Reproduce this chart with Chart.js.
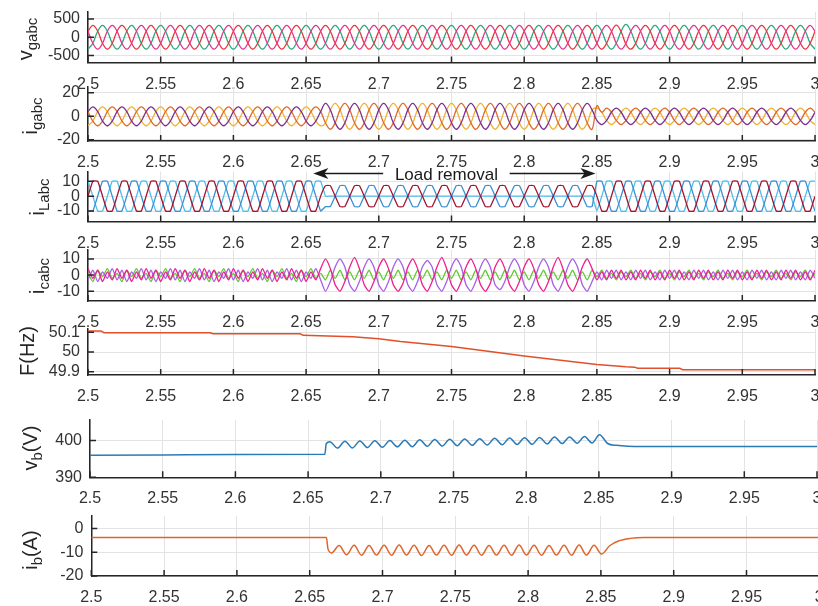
<!DOCTYPE html>
<html><head><meta charset="utf-8">
<script src="https://cdn.jsdelivr.net/npm/chart.js"></script>
<style>
html,body{margin:0;padding:0;width:818px;height:606px;overflow:hidden;background:#fff}
canvas{position:absolute;left:0}
.yl{position:absolute;width:0;height:0}
.yl span{position:absolute;left:0;top:0;transform:translate(-50%,-50%) rotate(-90deg);white-space:nowrap;font-family:"Liberation Sans",Arial,sans-serif;color:#262626;font-size:20px;line-height:20px}
.yl sub{font-size:15px;line-height:0;vertical-align:-5px}
</style></head><body>
<canvas id="c1"></canvas><canvas id="c2"></canvas><canvas id="c3"></canvas><canvas id="c4"></canvas>
<canvas id="c5"></canvas><canvas id="c6"></canvas><canvas id="c7"></canvas>
<div class="yl" style="left:25px;top:39px"><span>v<sub>gabc</sub></span></div>
<div class="yl" style="left:30px;top:116px"><span>i<sub>gabc</sub></span></div>
<div class="yl" style="left:37px;top:197px"><span>i<sub>Labc</sub></span></div>
<div class="yl" style="left:37px;top:276px"><span>i<sub>cabc</sub></span></div>
<div class="yl" style="left:27px;top:351px"><span>F(Hz)</span></div>
<div class="yl" style="left:30px;top:448px"><span>v<sub>b</sub>(V)</span></div>
<div class="yl" style="left:30px;top:550px"><span>i<sub>b</sub>(A)</span></div>
<script>
// ---------- tick labels ----------
const XTICKS = [2.5,2.55,2.6,2.65,2.7,2.75,2.8,2.85,2.9,2.95,3];
const XTICK_LABELS = ['2.5','2.55','2.6','2.65','2.7','2.75','2.8','2.85','2.9','2.95','3'];
const YT_VG = [-500,0,500],   YL_VG = ['-500','0','500'];
const YT_IG = [-20,0,20],     YL_IG = ['-20','0','20'];
const YT_IL = [-10,0,10],     YL_IL = ['-10','0','10'];
const YT_IC = [-10,0,10],     YL_IC = ['-10','0','10'];
const YT_F  = [49.9,50,50.1], YL_F  = ['49.9','50','50.1'];
const YT_VB = [390,400],      YL_VB = ['390','400'];
const YT_IB = [-20,-10,0],    YL_IB = ['-20','-10','0'];

// ---------- sampled waveforms (time in s) ----------
const T_WAVE = [
2.5,2.50333,2.50667,2.51,2.51333,2.51667,2.52,2.52333,2.52667,2.53,2.53333,2.53667,2.54,2.54333,2.54667,2.55,2.55333,2.55667,2.56,2.56333,2.56667,2.57,2.57333,2.57667,2.58,2.58333,2.58667,2.59,2.59333,2.59667,
2.6,2.60333,2.60667,2.61,2.61333,2.61667,2.62,2.62333,2.62667,2.63,2.63333,2.63667,2.64,2.64333,2.64667,2.65,2.65333,2.65667,2.66,2.66333,2.66667,2.67,2.67333,2.67667,2.68,2.68333,2.68667,2.69,2.69333,2.69667,
2.7,2.70333,2.70667,2.71,2.71333,2.71667,2.72,2.72333,2.72667,2.73,2.73333,2.73667,2.74,2.74333,2.74667,2.75,2.75333,2.75667,2.76,2.76333,2.76667,2.77,2.77333,2.77667,2.78,2.78333,2.78667,2.79,2.79333,2.79667,
2.8,2.80333,2.80667,2.81,2.81333,2.81667,2.82,2.82333,2.82667,2.83,2.83333,2.83667,2.84,2.84333,2.84667,2.85,2.85333,2.85667,2.86,2.86333,2.86667,2.87,2.87333,2.87667,2.88,2.88333,2.88667,2.89,2.89333,2.89667,
2.9,2.90333,2.90667,2.91,2.91333,2.91667,2.92,2.92333,2.92667,2.93,2.93333,2.93667,2.94,2.94333,2.94667,2.95,2.95333,2.95667,2.96,2.96333,2.96667,2.97,2.97333,2.97667,2.98,2.98333,2.98667,2.99,2.99333,2.99667,
3];

const VG_A = [
163,325,163,-163,-325,-163,163,325,163,-163,-325,-163,163,325,163,-163,-325,-163,163,325,163,-163,-325,-163,163,325,163,-163,-325,-163,
163,325,163,-163,-325,-163,163,325,163,-163,-325,-163,163,325,163,-163,-325,-163,163,325,163,-163,-325,-163,163,325,163,-163,-325,-163,
163,325,163,-163,-325,-163,163,325,163,-163,-325,-163,163,325,163,-163,-325,-163,163,325,163,-163,-325,-163,163,325,163,-163,-325,-163,
163,325,163,-163,-325,-163,163,325,163,-163,-325,-163,163,325,163,-163,-325,-163,150,330,150,-190,-325,-163,163,325,163,-163,-325,-163,
163,325,163,-163,-325,-163,163,325,163,-163,-325,-163,163,325,163,-163,-325,-163,163,325,163,-163,-325,-163,163,325,163,-163,-325,-163,
163];
const VG_B = [
-325,-163,163,325,163,-163,-325,-163,163,325,163,-163,-325,-163,163,325,163,-163,-325,-163,163,325,163,-163,-325,-163,163,325,163,-163,
-325,-163,163,325,163,-163,-325,-163,163,325,163,-163,-325,-163,163,325,163,-163,-325,-163,163,325,163,-163,-325,-163,163,325,163,-163,
-325,-163,163,325,163,-163,-325,-163,163,325,163,-163,-325,-163,163,325,163,-163,-325,-163,163,325,163,-163,-325,-163,163,325,163,-163,
-325,-163,163,325,163,-163,-325,-163,163,325,163,-163,-325,-163,163,325,163,-163,-325,-163,163,350,163,-163,-325,-163,163,325,163,-163,
-325,-163,163,325,163,-163,-325,-163,163,325,163,-163,-325,-163,163,325,163,-163,-325,-163,163,325,163,-163,-325,-163,163,325,163,-163,
-325];
const VG_C = [
163,-163,-325,-163,163,325,163,-163,-325,-163,163,325,163,-163,-325,-163,163,325,163,-163,-325,-163,163,325,163,-163,-325,-163,163,325,
163,-163,-325,-163,163,325,163,-163,-325,-163,163,325,163,-163,-325,-163,163,325,163,-163,-325,-163,163,325,163,-163,-325,-163,163,325,
163,-163,-325,-163,163,325,163,-163,-325,-163,163,325,163,-163,-325,-163,163,325,163,-163,-325,-163,163,325,163,-163,-325,-163,163,325,
163,-163,-325,-163,163,325,163,-163,-325,-163,163,325,163,-163,-325,-163,163,325,163,-163,-325,-163,163,325,163,-163,-325,-163,163,325,
163,-163,-325,-163,163,325,163,-163,-325,-163,163,325,163,-163,-325,-163,163,325,163,-163,-325,-163,163,325,163,-163,-325,-163,163,325,
163];

const IG_A = [
4,8,4,-4,-8,-4,4,8,4,-4,-8,-4,4,8,4,-4,-8,-4,4,8,4,-4,-8,-4,4,8,4,-4,-8,-4,
4,8,4,-4,-8,-4,4,8,4,-4,-8,-4,4,8,4,-4,-8,-4,4,11,5.5,-5.5,-11,-5.5,5.5,11,5.5,-5.5,-11,-5.5,
5.5,11,5.5,-5.5,-11,-5.5,5.5,11,5.5,-5.5,-11,-5.5,5.5,11,5.5,-5.5,-11,-5.5,5.5,11,5.5,-5.5,-11,-5.5,5.5,11,5.5,-5.5,-11,-5.5,
5.5,11,5.5,-5.5,-11,-5.5,5.5,11,5.5,-5.5,-11,-5.5,5.5,11,5.5,-3.5,-7,-3.5,3.5,7,3.5,-3.5,-7,-3.5,3.5,7,3.5,-3.5,-7,-3.5,
3.5,7,3.5,-3.5,-7,-3.5,3.5,7,3.5,-3.5,-7,-3.5,3.5,7,3.5,-3.5,-7,-3.5,3.5,7,3.5,-3.5,-7,-3.5,3.5,7,3.5,-3.5,-7,-3.5,
3.5];
const IG_B = [
-8,-4,4,8,4,-4,-8,-4,4,8,4,-4,-8,-4,4,8,4,-4,-8,-4,4,8,4,-4,-8,-4,4,8,4,-4,
-8,-4,4,8,4,-4,-8,-4,4,8,4,-4,-8,-4,4,8,4,-4,-8,-5.5,5.5,11,5.5,-5.5,-11,-5.5,5.5,11,5.5,-5.5,
-11,-5.5,5.5,11,5.5,-5.5,-11,-5.5,5.5,11,5.5,-5.5,-11,-5.5,5.5,11,5.5,-5.5,-11,-5.5,5.5,11,5.5,-5.5,-11,-5.5,5.5,11,5.5,-5.5,
-11,-5.5,5.5,11,5.5,-5.5,-11,-5.5,5.5,11,5.5,-5.5,-11,-5.5,5.5,7,3.5,-3.5,-7,-3.5,3.5,7,3.5,-3.5,-7,-3.5,3.5,7,3.5,-3.5,
-7,-3.5,3.5,7,3.5,-3.5,-7,-3.5,3.5,7,3.5,-3.5,-7,-3.5,3.5,7,3.5,-3.5,-7,-3.5,3.5,7,3.5,-3.5,-7,-3.5,3.5,7,3.5,-3.5,
-7];
const IG_C = [
4,-4,-8,-4,4,8,4,-4,-8,-4,4,8,4,-4,-8,-4,4,8,4,-4,-8,-4,4,8,4,-4,-8,-4,4,8,
4,-4,-8,-4,4,8,4,-4,-8,-4,4,8,4,-4,-8,-4,4,8,4,-5.5,-11,-5.5,5.5,11,5.5,-5.5,-11,-5.5,5.5,11,
5.5,-5.5,-11,-5.5,5.5,11,5.5,-5.5,-11,-5.5,5.5,11,5.5,-5.5,-11,-5.5,5.5,11,5.5,-5.5,-11,-5.5,5.5,11,5.5,-5.5,-11,-5.5,5.5,11,
5.5,-5.5,-11,-5.5,5.5,11,5.5,-5.5,-11,-5.5,5.5,11,5.5,-5.5,-11,9,3.5,7,3.5,-3.5,-7,-3.5,3.5,7,3.5,-3.5,-7,-3.5,3.5,7,
3.5,-3.5,-7,-3.5,3.5,7,3.5,-3.5,-7,-3.5,3.5,7,3.5,-3.5,-7,-3.5,3.5,7,3.5,-3.5,-7,-3.5,3.5,7,3.5,-3.5,-7,-3.5,3.5,7,
3.5];

const IL_A = [
0,10,10,0,-10,-10,0,10,10,0,-10,-10,0,10,10,0,-10,-10,0,10,10,0,-10,-10,0,10,10,0,-10,-10,
0,10,10,0,-10,-10,0,10,10,0,-10,-10,0,10,10,0,-10,-10,0,7,7,0,-7,-7,0,7,7,0,-7,-7,
0,7,7,0,-7,-7,0,7,7,0,-7,-7,0,7,7,0,-7,-7,0,7,7,0,-7,-7,0,7,7,0,-7,-7,
0,7,7,0,-7,-7,0,7,7,0,-7,-7,0,7,7,0,-10,-10,0,10,10,0,-10,-10,0,10,10,0,-10,-10,
0,10,10,0,-10,-10,0,10,10,0,-10,-10,0,10,10,0,-10,-10,0,10,10,0,-10,-10,0,10,10,0,-10,-10,
0];
const IL_B = [
-10,-10,0,10,10,0,-10,-10,0,10,10,0,-10,-10,0,10,10,0,-10,-10,0,10,10,0,-10,-10,0,10,10,0,
-10,-10,0,10,10,0,-10,-10,0,10,10,0,-10,-10,0,10,10,0,-10,-7,-7,0,7,7,0,-7,-7,0,7,7,
0,-7,-7,0,7,7,0,-7,-7,0,7,7,0,-7,-7,0,7,7,0,-7,-7,0,7,7,0,-7,-7,0,7,7,
0,-7,-7,0,7,7,0,-7,-7,0,7,7,0,-7,-7,10,10,0,-10,-10,0,10,10,0,-10,-10,0,10,10,0,
-10,-10,0,10,10,0,-10,-10,0,10,10,0,-10,-10,0,10,10,0,-10,-10,0,10,10,0,-10,-10,0,10,10,0,
-10];
const IL_C = [
10,0,-10,-10,0,10,10,0,-10,-10,0,10,10,0,-10,-10,0,10,10,0,-10,-10,0,10,10,0,-10,-10,0,10,
10,0,-10,-10,0,10,10,0,-10,-10,0,10,10,0,-10,-10,0,10,10,0,0,0,0,0,0,0,0,0,0,0,
0,0,0,0,0,0,0,0,0,0,0,0,0,0,0,0,0,0,0,0,0,0,0,0,0,0,0,0,0,0,
0,0,0,0,0,0,0,0,0,0,0,0,0,0,0,-10,0,10,10,0,-10,-10,0,10,10,0,-10,-10,0,10,
10,0,-10,-10,0,10,10,0,-10,-10,0,10,10,0,-10,-10,0,10,10,0,-10,-10,0,10,10,0,-10,-10,0,10,
10];

const IC_A = [
4,-2,3,-4,2,-3,4,-2,3,-4,2,-3,4,-2,3,-4,2,-3,4,-2,3,-4,2,-3,4,-2,3,-4,2,-3,
4,-2,3,-4,2,-3,4,-2,3,-4,2,-3,4,-2,3,-4,2,-3,4,10,4,-6,-10,-4,5,11,4,-6,-10,-4,
5,10,4,-6,-10,-5,5,10,4,-6,-10,-4,5,11,4,-6,-10,-4,5,10,4,-6,-10,-5,5,10,4,-6,-10,-4,
5,10,4,-6,-10,-4,5,11,4,-6,-10,-4,5,10,4,-3,2,-3,3,-2,3,-3,2,-3,3,-2,3,-3,2,-3,
3,-2,3,-3,2,-3,3,-2,3,-3,2,-3,3,-2,3,-3,2,-3,3,-2,3,-3,2,-3,3,-2,3,-3,2,-3,
3];
const IC_B = [
-3,3,-4,2,-2,4,-3,3,-4,2,-2,4,-3,3,-4,2,-2,4,-3,3,-4,2,-2,4,-3,3,-4,2,-2,4,
-3,3,-4,2,-2,4,-3,3,-4,2,-2,4,-3,3,-4,2,-2,4,-3,-10,-4,5,10,5,-6,-10,-4,5,10,5,
-6,-10,-4,5,10,5,-6,-10,-4,5,9,5,-6,-10,-4,5,10,5,-6,-10,-4,5,10,5,-6,-9,-4,5,10,5,
-6,-10,-4,5,10,5,-6,-10,-4,5,10,5,-6,-10,-4,2,-3,3,-2,3,-3,2,-3,3,-2,3,-3,2,-3,3,
-2,3,-3,2,-3,3,-2,3,-3,2,-3,3,-2,3,-3,2,-3,3,-2,3,-3,2,-3,3,-2,3,-3,2,-3,3,
-2];
const IC_C = [
1,-4,3,-1,4,-2,1,-4,3,-1,4,-2,1,-4,3,-1,4,-2,1,-4,3,-1,4,-2,1,-4,3,-1,4,-2,
1,-4,3,-1,4,-2,1,-4,3,-1,4,-2,1,-4,3,-1,4,-2,1,-3,3,-2,3,-3,2,-3,3,-2,3,-3,
2,-3,3,-2,3,-3,2,-3,3,-2,3,-3,2,-3,3,-2,3,-3,2,-3,3,-2,3,-3,2,-3,3,-2,3,-3,
2,-3,3,-2,3,-3,2,-3,3,-2,3,-3,2,-3,3,-1,3,-2,1,-3,2,-1,3,-2,1,-3,2,-1,3,-2,
1,-3,2,-1,3,-2,1,-3,2,-1,3,-2,1,-3,2,-1,3,-2,1,-3,2,-1,3,-2,1,-3,2,-1,3,-2,
1];

// ---------- frequency ----------
const F_T = [2.5,2.509,2.511,2.584,2.586,2.646,2.648,2.682,2.7,2.715,2.75,2.8,2.85,2.87,2.876,2.878,2.907,2.909,3.0];
const F_V = [50.107,50.107,50.098,50.098,50.093,50.093,50.085,50.077,50.068,50.053,50.028,49.98,49.937,49.925,49.923,49.917,49.917,49.91,49.91];

// ---------- battery voltage / current ----------
const B_T = [2.5,2.55,2.6,2.6615,2.6625,
2.665,2.6702,2.6753,2.6805,2.6856,2.6908,2.6959,2.7011,2.7062,2.7114,2.7165,2.7217,2.7268,2.732,2.7371,2.7423,2.7474,2.7526,
2.7577,2.7629,2.768,2.7732,2.7783,2.7835,2.7886,2.7938,2.7989,2.8041,2.8092,2.8144,2.8195,2.8247,2.8298,2.835,2.8401,2.8453,2.8504,
2.856,2.862,2.87,2.88,2.95,3.0];
const VB = [396.0,396.1,396.2,396.3,399.2,
399.7,397.95,399.8,398.0,399.9,398.1,399.95,398.2,400.0,398.3,400.1,398.35,400.2,398.45,400.3,398.5,400.35,398.6,
400.45,398.7,400.5,398.8,400.6,398.85,400.7,398.95,400.8,399.0,400.85,399.1,400.95,399.2,401.0,399.3,401.1,399.35,401.6,
399.2,398.7,398.45,398.4,398.4,398.4];
const IB = [-3.8,-3.8,-3.8,-3.8,-8.5,
-10.3,-7.2,-11.1,-7.1,-11.3,-7.2,-11.2,-7.1,-11.3,-7.0,-11.2,-7.1,-11.4,-7.2,-11.2,-7.1,-11.3,-7.0,
-11.2,-7.1,-11.3,-7.2,-11.2,-7.1,-11.3,-7.0,-11.2,-7.1,-11.3,-7.2,-11.2,-7.1,-11.3,-7.0,-11.2,-7.1,-10.8,
-7.3,-5.3,-4.2,-3.8,-3.8,-3.8];

// ---------- rendering ----------
const FONT = '"Liberation Sans", Arial, Helvetica, sans-serif';
const GRID = '#e3e3e3', AXIS = '#262626', TXT = '#333333';
const ANNOT = {text:'Load removal', leftTip:2.655, leftEnd:2.703, rightStart:2.790, rightTip:2.849, textAt:2.7465};

const inwardTicks = {
  id:'inwardTicks',
  afterDraw(chart){
    const {ctx, chartArea:a, scales:{x, y}} = chart;
    ctx.save();
    ctx.strokeStyle = AXIS; ctx.lineWidth = 1.5;
    ctx.beginPath();
    x.ticks.forEach(t => { const p = x.getPixelForValue(t.value); ctx.moveTo(p, a.bottom); ctx.lineTo(p, a.bottom - 6); });
    y.ticks.forEach(t => { const p = y.getPixelForValue(t.value); ctx.moveTo(a.left, p); ctx.lineTo(a.left + 6, p); });
    ctx.stroke();
    ctx.restore();
  }
};

const loadRemoval = {
  id:'loadRemoval',
  afterDraw(chart){
    const {ctx, chartArea:a, scales:{x}} = chart;
    const y = a.top + 2;
    const p = v => x.getPixelForValue(v);
    ctx.save();
    ctx.strokeStyle = '#1a1a1a'; ctx.fillStyle = '#1a1a1a'; ctx.lineWidth = 1.6;
    ctx.beginPath();
    ctx.moveTo(p(ANNOT.leftTip) + 10, y); ctx.lineTo(p(ANNOT.leftEnd), y);
    ctx.moveTo(p(ANNOT.rightStart), y); ctx.lineTo(p(ANNOT.rightTip) - 10, y);
    ctx.stroke();
    ctx.beginPath();
    let t = p(ANNOT.leftTip);
    ctx.moveTo(t, y); ctx.lineTo(t + 15, y - 5.5); ctx.lineTo(t + 11, y); ctx.lineTo(t + 15, y + 5.5); ctx.closePath();
    t = p(ANNOT.rightTip);
    ctx.moveTo(t, y); ctx.lineTo(t - 15, y - 5.5); ctx.lineTo(t - 11, y); ctx.lineTo(t - 15, y + 5.5); ctx.closePath();
    ctx.fill();
    ctx.font = '17px ' + FONT; ctx.textAlign = 'center'; ctx.textBaseline = 'alphabetic';
    ctx.fillText(ANNOT.text, p(ANNOT.textAt), a.top + 8.5);
    ctx.restore();
  }
};

function pts(xs, ys){ return ys.map((v, i) => ({x: xs[i], y: v})); }

function panel(id, g, yax, sets, extra){
  const cv = document.getElementById(id);
  const top = Math.floor(g.T) - 22;
  const padTop = g.T - top;
  const H = Math.ceil(g.B - top + 34);
  const xH = H - (g.B - top);
  const W = Math.ceil(g.R) + 22;
  cv.width = W; cv.height = H;
  cv.style.top = top + 'px'; cv.style.width = W + 'px'; cv.style.height = H + 'px';
  const tickFont = {family: FONT, size: 16};
  new Chart(cv, {
    type:'line',
    data:{datasets: sets.map(s => ({
      data: pts(s.x, s.y), borderColor: s.color, borderWidth: s.w || 1.3,
      tension: s.tension || 0, cubicInterpolationMode: s.mono ? 'monotone' : 'default',
      pointRadius: 0, fill: false
    }))},
    options:{
      responsive:false, animation:false, devicePixelRatio:1, events:[],
      layout:{padding:{left:0, right:W - g.R, top:padTop, bottom:0}},
      plugins:{legend:{display:false}, tooltip:{enabled:false}},
      scales:{
        x:{type:'linear', min:2.5, max:3,
          afterBuildTicks: s => { s.ticks = XTICKS.map(v => ({value:v})); },
          afterFit: s => { s.height = xH; },
          ticks:{autoSkip:false, maxRotation:0, minRotation:0, padding:12, color:TXT, font:tickFont,
                 callback:(v, i) => XTICK_LABELS[i]},
          grid:{color:GRID, drawTicks:false, lineWidth:1},
          border:{display:true, color:AXIS, width:1.5}},
        y:{type:'linear', min:yax.min, max:yax.max,
          afterBuildTicks: s => { s.ticks = yax.ticks.map(v => ({value:v})); },
          afterFit: s => { s.width = g.L; },
          ticks:{padding:8, color:TXT, font:tickFont, callback:(v, i) => yax.labels[i]},
          grid:{color:GRID, drawTicks:false, lineWidth:1},
          border:{display:true, color:AXIS, width:1.5}}
      }
    },
    plugins:[inwardTicks].concat(extra || [])
  });
}

panel('c1', {L:88, R:815, T:12, B:62.5}, {min:-690, max:690, ticks:YT_VG, labels:YL_VG}, [
  {x:T_WAVE, y:VG_C, color:'#E0378C', tension:0.4},
  {x:T_WAVE, y:VG_A, color:'#E8363F', tension:0.4},
  {x:T_WAVE, y:VG_B, color:'#2BA87E', tension:0.4}
]);
panel('c2', {L:88, R:815, T:87, B:141}, {min:-21, max:25, ticks:YT_IG, labels:YL_IG}, [
  {x:T_WAVE, y:IG_A, color:'#7B3190', tension:0.4},
  {x:T_WAVE, y:IG_C, color:'#E06A2A', tension:0.4},
  {x:T_WAVE, y:IG_B, color:'#F0B232', tension:0.4}
]);
panel('c3', {L:88, R:815, T:171.5, B:221.5}, {min:-17, max:16.5, ticks:YT_IL, labels:YL_IL}, [
  {x:T_WAVE, y:IL_A, color:'#A2142F', tension:0.1},
  {x:T_WAVE, y:IL_B, color:'#3A8ED2', tension:0.1},
  {x:T_WAVE, y:IL_C, color:'#4DBEEE', tension:0.1}
], [loadRemoval]);
panel('c4', {L:88, R:815, T:250, B:301}, {min:-16, max:15.5, ticks:YT_IC, labels:YL_IC}, [
  {x:T_WAVE, y:IC_A, color:'#F01E8C', tension:0.2},
  {x:T_WAVE, y:IC_B, color:'#A85EE6', tension:0.2},
  {x:T_WAVE, y:IC_C, color:'#62C832', tension:0.2}
]);
panel('c5', {L:88, R:815, T:329, B:375}, {min:49.883, max:50.117, ticks:YT_F, labels:YL_F}, [
  {x:F_T, y:F_V, color:'#E2502A', w:1.5}
]);
panel('c6', {L:90, R:817, T:420, B:477.3}, {min:390, max:405.6, ticks:YT_VB, labels:YL_VB}, [
  {x:B_T, y:VB, color:'#2A7AB8', w:1.5, mono:true}
]);
panel('c7', {L:91.3, R:819.3, T:516, B:576}, {min:-20, max:5.2, ticks:YT_IB, labels:YL_IB}, [
  {x:B_T, y:IB, color:'#E0642A', w:1.5, mono:true}
]);
</script>
</body></html>
